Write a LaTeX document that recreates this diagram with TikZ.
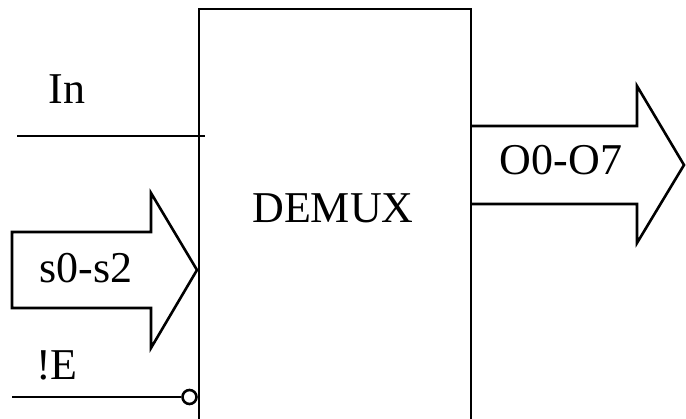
\documentclass[tikz,border=0pt]{standalone}
\usepackage{fontspec}
\setmainfont{Liberation Serif}
\begin{document}
\begin{tikzpicture}[x=1pt,y=-1pt,
  wire/.style={line width=2.6pt,line join=miter},
  lbl/.style={font=\fontsize{44}{50}\selectfont,inner sep=0pt,anchor=center}]
\useasboundingbox (0,0) rectangle (686,419);
\clip (0,0) rectangle (686,419);
% DEMUX box (bottom edge lies outside the picture)
\node[draw,wire,minimum width=272pt,minimum height=431pt,inner sep=0pt] (box) at (335,224.5) {};
\node[lbl] (demux) at (333,208) {DEMUX};
% In
\coordinate (inL) at (17,136);
\coordinate (inR) at (205,136);
\draw[wire] (inL) -- (inR);
\node[lbl] (inlbl) at (67,89) {In};
% s0-s2 bus arrow
\draw[wire] (12,232) -- (151,232) -- (151,193) -- (197,270) -- (151,348) -- (151,308) -- (12,308) -- cycle;
\node[lbl] (sel) at (86,268) {s0-s2};
% O0-O7 bus arrow
\draw[wire] (471,126) -- (637,126) -- (637,86) -- (684,165) -- (637,243) -- (637,204) -- (471,204);
\node[lbl] (out) at (561,160) {O0-O7};
% !E with inversion bubble
\node[draw,wire,circle,inner sep=0pt,minimum size=14pt] (bub) at (189.5,397) {};
\coordinate (enL) at (12,397);
\draw[wire] (enL) -- (bub.west);
\node[lbl] (en) at (57,365) {!E};
\end{tikzpicture}
\end{document}
